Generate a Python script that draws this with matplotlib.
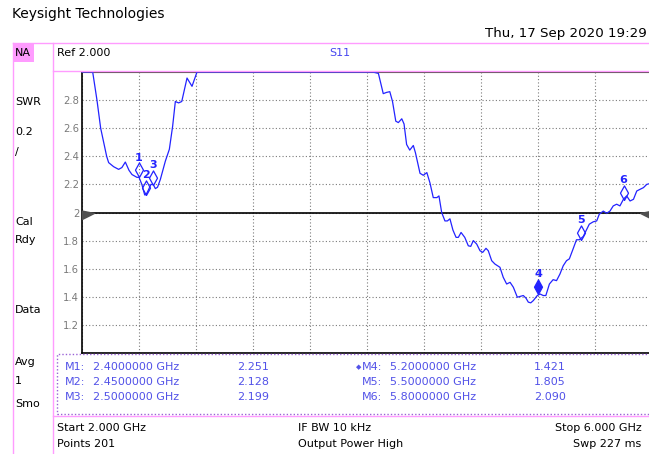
import numpy as np
import matplotlib
matplotlib.use("Agg")
import matplotlib.pyplot as plt
from matplotlib.patches import Rectangle
from matplotlib.lines import Line2D
from matplotlib.path import Path

# S11 trace (SWR), GHz / SWR
freq = [2.000, 2.060, 2.075, 2.105, 2.131, 2.173, 2.187, 2.222, 2.257, 2.280,
        2.304, 2.330, 2.351, 2.386, 2.400, 2.420, 2.440, 2.450, 2.466, 2.484,
        2.500, 2.515, 2.530, 2.550, 2.585, 2.613, 2.636, 2.655, 2.678, 2.700,
        2.737, 2.772, 2.807, 2.840, 4.040, 4.080, 4.114, 4.138, 4.160, 4.179,
        4.202, 4.220, 4.244, 4.260, 4.278, 4.300, 4.325, 4.340, 4.372, 4.395,
        4.420, 4.442, 4.465, 4.490, 4.505, 4.524, 4.547, 4.564, 4.582, 4.603,
        4.625, 4.641, 4.660, 4.686, 4.711, 4.728, 4.746, 4.770, 4.793, 4.812,
        4.835, 4.851, 4.875, 4.898, 4.933, 4.956, 4.980, 5.004, 5.027, 5.055,
        5.079, 5.097, 5.116, 5.132, 5.149, 5.167, 5.195, 5.214, 5.237, 5.255,
        5.280, 5.306, 5.330, 5.354, 5.377, 5.400, 5.420, 5.446, 5.470, 5.490,
        5.518, 5.537, 5.560, 5.588, 5.612, 5.630, 5.658, 5.682, 5.705, 5.728,
        5.752, 5.775, 5.800, 5.822, 5.846, 5.870, 5.893, 5.916, 5.940, 5.963,
        5.985, 6.000]
swr = [3.30, 3.10, 3.00, 2.80, 2.60, 2.40, 2.355, 2.326, 2.307, 2.320,
       2.359, 2.300, 2.270, 2.250, 2.251, 2.200, 2.125, 2.128, 2.160, 2.200,
       2.199, 2.170, 2.180, 2.236, 2.366, 2.450, 2.614, 2.790, 2.780, 2.790,
       2.957, 2.898, 3.000, 3.300, 3.300, 2.990, 2.846, 2.855, 2.860, 2.790,
       2.650, 2.640, 2.667, 2.630, 2.484, 2.444, 2.477, 2.425, 2.279, 2.265,
       2.284, 2.210, 2.106, 2.106, 2.118, 2.000, 1.940, 1.940, 1.955, 1.875,
       1.823, 1.823, 1.858, 1.823, 1.763, 1.759, 1.800, 1.775, 1.728, 1.716,
       1.745, 1.728, 1.657, 1.633, 1.610, 1.539, 1.491, 1.503, 1.468, 1.397,
       1.404, 1.409, 1.390, 1.362, 1.357, 1.373, 1.409, 1.420, 1.409, 1.409,
       1.491, 1.522, 1.515, 1.562, 1.621, 1.657, 1.670, 1.740, 1.806, 1.806,
       1.830, 1.870, 1.917, 1.934, 1.940, 1.988, 2.010, 1.995, 2.010, 2.047,
       2.059, 2.047, 2.095, 2.118, 2.082, 2.094, 2.153, 2.165, 2.177, 2.200,
       2.206, 2.215]

# markers
mk_freq = [2.40, 2.45, 2.50, 5.20, 5.50, 5.80]
mk_val = [2.251, 2.128, 2.199, 1.421, 1.805, 2.090]
active = 4

ref = 2.0
start, stop = 2.0, 6.0
ymin, ymax = 1.0, 3.0
yticks = [1.2, 1.4, 1.6, 1.8, 2.0, 2.2, 2.4, 2.6, 2.8]

TRACE = '#2323ff'
MKTXT = '#5252e8'
PINK = '#ff9cff'
W, H = 649, 454


def fx(x):
    return x / W


def fy(y):
    return 1 - y / H


fig = plt.figure(figsize=(W / 100, H / 100), dpi=100)

# chart area, right edge runs past the screenshot
ax = fig.add_axes([fx(82), fy(353), (652 - 82) / W, (353 - 72) / H])
ax.set_xlim(start, stop)
ax.set_ylim(ymin, ymax)
ax.set_xticks(np.linspace(start, stop, 11))
ax.set_xticklabels([])
ax.set_yticks(yticks)
ax.set_yticklabels([f'{v:g}' for v in yticks])
ax.tick_params(length=0, labelsize=7.2, labelcolor='#7a7a7a', pad=2)
ax.grid(True, linestyle=(0, (1, 2)), color='#7a7a7a', lw=0.8)
ax.set_axisbelow(True)
for s in ['left', 'bottom']:
    ax.spines[s].set_color('black')
    ax.spines[s].set_linewidth(1.2)
ax.spines['top'].set_color('#5a4a50')
ax.spines['right'].set_visible(False)

ax.axhline(ref, color='black', lw=1.2, zorder=2)
tri_l = Path([(0, 0.2), (1.0, 0), (0, -0.5), (0, 0.2)])
tri_r = Path([(0, 0.2), (-1.0, 0), (0, -0.5), (0, 0.2)])
ax.plot([start], [ref], marker=tri_l, ms=17, color='#505050', clip_on=False, zorder=3)
ax.plot([stop], [ref], marker=tri_r, ms=17, color='#505050', clip_on=False, zorder=3)

ax.plot(freq, np.minimum(swr, ymax), color=TRACE, lw=0.9, clip_on=False, zorder=4)

diamond = Path([(0, 0), (0.55, 1), (0, 2), (-0.55, 1), (0, 0)])
for i, (f, v) in enumerate(zip(mk_freq, mk_val), start=1):
    face = TRACE if i == active else 'none'
    ax.plot([f], [v], marker=diamond, ms=21, markerfacecolor=face,
            markeredgecolor=TRACE, markeredgewidth=0.9, zorder=5)
    ax.annotate(str(i), (f, v), xytext=(0, 10.5), textcoords='offset points',
                ha='center', va='bottom', color=TRACE, fontsize=8,
                fontweight='bold', zorder=6)

# frames
fig.add_artist(Line2D([fx(13), fx(13)], [fy(43), fy(454)], color=PINK, lw=1))
fig.add_artist(Line2D([fx(53), fx(53)], [fy(43), fy(454)], color=PINK, lw=1))
fig.add_artist(Line2D([fx(13), 1], [fy(43), fy(43)], color=PINK, lw=1))
fig.add_artist(Line2D([fx(53), 1], [fy(71), fy(71)], color=PINK, lw=1))
fig.add_artist(Line2D([fx(53), 1], [fy(416), fy(416)], color=PINK, lw=1))
fig.add_artist(Rectangle((fx(14), fy(62)), 20 / W, 18 / H, transform=fig.transFigure,
                         facecolor=PINK, edgecolor='none'))
fig.add_artist(Rectangle((fx(57), fy(414)), 600 / W, 60 / H, transform=fig.transFigure,
                         facecolor='none', edgecolor='#9a62d6', lw=1,
                         linestyle=(0, (1, 1.5))))

# header texts
fig.text(fx(12), fy(14), 'Keysight Technologies', fontsize=10, va='center')
fig.text(fx(647), fy(33), 'Thu, 17 Sep 2020 19:29', fontsize=9.6, va='center', ha='right')
fig.text(fx(15), fy(53), 'NA', fontsize=8, va='center')
fig.text(fx(57), fy(53), 'Ref 2.000', fontsize=8, va='center')
fig.text(fx(329), fy(53), 'S11', fontsize=8, va='center', color='#4646f0')

side = [('SWR', 102), ('0.2', 132), ('/', 152), ('Cal', 222), ('Rdy', 240),
        ('Data', 310), ('Avg', 362), ('1', 381), ('Smo', 404)]
for t, y in side:
    fig.text(fx(15), fy(y), t, fontsize=8, va='center')

# marker table
for i, (f, v) in enumerate(zip(mk_freq, mk_val), start=1):
    col = 0 if i <= 3 else 1
    y = 367 + 15 * ((i - 1) % 3)
    x0 = [65, 362][col]
    fig.text(fx(x0), fy(y), f'M{i}:', fontsize=8, va='center', color=MKTXT)
    fig.text(fx(x0 + 28), fy(y), f'{f:.7f} GHz', fontsize=8, va='center', color=MKTXT)
    fig.text(fx(x0 + 172), fy(y), f'{v:.3f}', fontsize=8, va='center', color=MKTXT)
    if i == active:
        fig.text(fx(x0 - 1), fy(y), '\u25c6', fontsize=5, va='center', ha='right', color=MKTXT)

# status bar
fig.text(fx(57), fy(428), 'Start 2.000 GHz', fontsize=8, va='center')
fig.text(fx(57), fy(444), 'Points 201', fontsize=8, va='center')
fig.text(fx(298), fy(428), 'IF BW 10 kHz', fontsize=8, va='center')
fig.text(fx(298), fy(444), 'Output Power High', fontsize=8, va='center')
fig.text(fx(642), fy(428), 'Stop 6.000 GHz', fontsize=8, va='center', ha='right')
fig.text(fx(641), fy(444), 'Swp 227 ms', fontsize=8, va='center', ha='right')

fig.savefig('out.png', dpi=100)
